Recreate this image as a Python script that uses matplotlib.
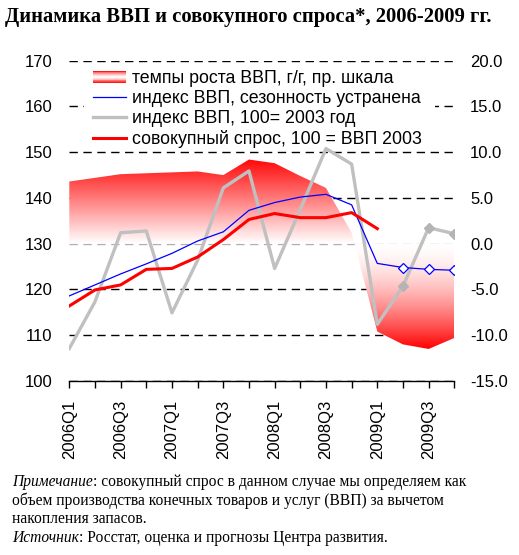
import numpy as np
import matplotlib
matplotlib.use("Agg")
import matplotlib.pyplot as plt
from matplotlib.patches import Polygon, Rectangle
from matplotlib.legend_handler import HandlerBase
from matplotlib.lines import Line2D
from matplotlib.ticker import FormatStrFormatter

plt.rcParams["font.family"] = ["Liberation Sans", "DejaVu Sans"]
plt.rcParams["axes.unicode_minus"] = False

# =========================
# DATA
# =========================

quarters = ["2006Q1", "2006Q2", "2006Q3", "2006Q4",
            "2007Q1", "2007Q2", "2007Q3", "2007Q4",
            "2008Q1", "2008Q2", "2008Q3", "2008Q4",
            "2009Q1", "2009Q2", "2009Q3", "2009Q4"]

# темпы роста ВВП, г/г, % (правая шкала)
gdp_growth = [6.8, 7.2, 7.6, 7.7, 7.8, 7.9, 7.5, 9.2,
              8.8, 7.4, 6.1, 1.2, -9.6, -11.0, -11.5, -10.3]

# индекс ВВП, сезонность устранена
gdp_sa = [118.6, 121.0, 123.4, 125.6, 127.9, 130.6, 132.6, 137.3,
          139.0, 140.2, 140.8, 138.5, 125.7, 124.8, 124.4, 124.2]

# индекс ВВП, 100 = 2003 год
gdp_idx = [107.1, 117.3, 132.4, 132.8, 114.9, 126.4, 142.2, 145.9,
           124.6, 137.5, 150.8, 147.4, 112.4, 120.7, 133.5, 132.2]

# совокупный спрос, 100 = ВВП 2003
demand = [116.4, 119.9, 121.0, 124.4, 124.6, 127.1, 130.9, 135.3,
          136.6, 135.7, 135.7, 136.8, 133.3]

forecast_from = 13   # маркеры на прогнозных кварталах

title = "Динамика ВВП и совокупного спроса*, 2006-2009 гг."
legend_labels = ["темпы роста ВВП, г/г, пр. шкала",
                 "индекс ВВП, сезонность устранена",
                 "индекс ВВП, 100= 2003 год",
                 "совокупный спрос, 100 = ВВП 2003"]

# =========================
# CONFIG
# =========================

W, H = 519, 555
DPI = 100
RED = "#ff0000"
BLUE = "#0000ff"
GREY = "#c0c0c0"
SERIF = ["Liberation Serif", "DejaVu Serif"]
LEG_FS = 12.8


def px(x, y):
    return x / W, 1 - y / H


class GradientHandler(HandlerBase):
    # полосатый красно-бело-красный значок для площади
    def create_artists(self, legend, orig_handle, xdescent, ydescent,
                       width, height, fontsize, trans):
        arts = []
        n = 14
        for i in range(n):
            t = abs((i + 0.5) / n * 2 - 1) ** 1.3
            c = (1, 1 - t, 1 - t)
            arts.append(Rectangle((-xdescent, -ydescent + i * height / n),
                                  width, height / n * 1.05,
                                  facecolor=c, edgecolor="none",
                                  transform=trans))
        return arts


fig = plt.figure(figsize=(W / DPI, H / DPI), dpi=DPI)
ax = fig.add_axes([69.3 / W, 1 - 381 / H, 385 / W, 320.3 / H])
ax2 = ax.twinx()
ax.set_zorder(ax2.get_zorder() + 1)
ax.patch.set_visible(False)

x = np.arange(len(quarters))

# --- площадь с градиентом (правая шкала)
verts = [(x[0], 0)] + list(zip(x, gdp_growth)) + [(x[-1], 0)]
clip = Polygon(verts, closed=True, facecolor="none", edgecolor="none")
ax2.add_patch(clip)

yy = np.linspace(-15, 20, 500)
t = np.where(yy >= 0,
             np.clip(yy / 9.5, 0, 1),
             np.clip(np.abs(yy) / 11.5, 0, 1) ** 1.6)
grad = np.zeros((len(yy), 1, 3))
grad[:, 0, 0] = 1
grad[:, 0, 1] = 1 - t
grad[:, 0, 2] = 1 - t
im = ax2.imshow(grad, extent=[x[0], x[-1], -15, 20], origin="lower",
                aspect="auto", zorder=1, interpolation="bilinear")
im.set_clip_path(clip)

ax2.set_ylim(-15, 20)
ax2.set_yticks(range(-15, 21, 5))
ax2.yaxis.set_major_formatter(FormatStrFormatter("%.1f"))
ax2.set_axisbelow(True)
ax2.grid(axis="y", color="black", linestyle=(0, (6, 4)), linewidth=1)
for val, gl in zip(range(-15, 21, 5), ax2.get_ygridlines()):
    if val == 0:
        gl.set_color("#b0b0b0")
ax2.tick_params(axis="y", length=0, pad=11.3, labelsize=12)

# --- линии (левая шкала)
ax.plot(x, gdp_idx, color=GREY, linewidth=2.4, zorder=3)
ax.plot(x[forecast_from:], gdp_idx[forecast_from:], linestyle="none",
        marker="D", markersize=5, color="#b4b4b4", zorder=3)
ax.plot(x, gdp_sa, color=BLUE, linewidth=0.9, zorder=4)
ax.plot(x[forecast_from:], gdp_sa[forecast_from:], linestyle="none",
        marker="D", markersize=5, markerfacecolor="white",
        markeredgecolor=BLUE, markeredgewidth=0.9, zorder=4)
ax.plot(x[:len(demand)], demand, color=RED, linewidth=2.2, zorder=5)

ax.set_xlim(x[0], x[-1])
ax.set_ylim(100, 170)
ax.set_yticks(range(100, 171, 10))
ax.tick_params(axis="y", length=0, pad=12, labelsize=12)
ax.set_xticks(x)
ax.set_xticklabels([q if i % 2 == 0 else "" for i, q in enumerate(quarters)],
                   rotation=90)
ax.tick_params(axis="x", direction="out", length=5, width=1, pad=8.6,
               labelsize=12, color="black")

for a in (ax, ax2):
    for side in ("left", "right", "top"):
        a.spines[side].set_visible(False)
ax2.spines["bottom"].set_visible(False)
ax.spines["bottom"].set_color("black")
ax.spines["bottom"].set_linewidth(1)

# --- легенда: белая подложка + легенда без рамки
bg = Rectangle(px(84, 146), (435 - 84) / W, (146 - 64) / H,
               transform=fig.transFigure, facecolor="white",
               edgecolor="none", zorder=2, clip_on=False)
ax.add_patch(bg)

handles = [Rectangle((0, 0), 1, 1),
           Line2D([], [], color=BLUE, linewidth=0.9),
           Line2D([], [], color=GREY, linewidth=2.4),
           Line2D([], [], color=RED, linewidth=2.2)]
leg = ax.legend(handles, legend_labels, loc="upper left",
                bbox_to_anchor=px(89.4, 66.5), bbox_transform=fig.transFigure,
                borderaxespad=0, borderpad=0.2, fontsize=LEG_FS,
                handlelength=1.85, handletextpad=0.34, labelspacing=0.17,
                frameon=False,
                handler_map={Rectangle: GradientHandler()})

# --- заголовок и примечание
fig.text(*px(5, 22), title, fontfamily=SERIF, fontweight="bold",
         fontsize=14.9, va="baseline")

renderer = fig.canvas.get_renderer()


def rich_line(y, parts):
    cx = 12.5
    for txt, style in parts:
        t_ = fig.text(*px(cx, y), txt, fontfamily=SERIF, fontstyle=style,
                      fontsize=11.2, va="baseline")
        cx += t_.get_window_extent(renderer).width


rich_line(486, [("Примечание", "italic"),
                (": совокупный спрос в данном случае мы определяем как", "normal")])
rich_line(505, [("объем производства конечных товаров и услуг (ВВП) за вычетом", "normal")])
rich_line(523, [("накопления запасов.", "normal")])
rich_line(542, [("Источник", "italic"),
                (": Росстат, оценка и прогнозы Центра развития.", "normal")])

fig.savefig("out.png", dpi=DPI, facecolor="white")
